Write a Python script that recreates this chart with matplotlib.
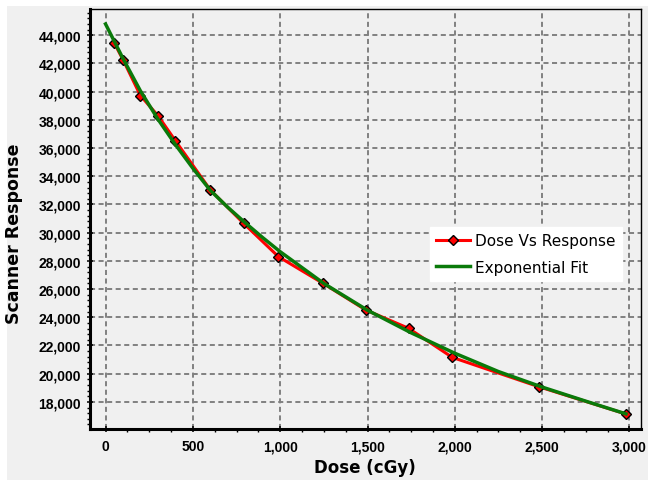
import matplotlib
matplotlib.use('Agg')
import matplotlib.pyplot as plt
import matplotlib.ticker as ticker
from matplotlib.patches import Rectangle

# data
dose = [50, 100, 200, 300, 400, 600, 790, 990, 1245, 1490, 1735, 1985, 2480, 2980]
response = [43450, 42270, 39720, 38300, 36520, 33030, 30670, 28300, 26410,
            24520, 23220, 21160, 19080, 17140]

fit_dose = [0, 100, 200, 300, 400, 500, 600, 700, 800, 900, 1000, 1250, 1500,
            1750, 2000, 2250, 2500, 2750, 2980]
fit_resp = [44800, 42350, 40050, 38050, 36250, 34570, 33000, 31800, 30700, 29650,
            28650, 26400, 24500, 22900, 21450, 20150, 19050, 18050, 17150]

W, H = 648, 481
fig = plt.figure(figsize=(W / 100, H / 100), dpi=100, facecolor='white')
# grey panel behind everything, white strip on top and left
fig.patches.append(Rectangle((7 / W, 0), 1, 1 - 7 / H, transform=fig.transFigure,
                             facecolor='#f0f0f0', edgecolor='none', zorder=-10))

ax = fig.add_axes([90 / W, 1 - 430 / H, 551 / W, 420 / H])
ax.set_facecolor('#f0f0f0')

ax.plot(dose, response, '-', color='#ff0000', linewidth=2.2, marker='D',
        markersize=5.5, markerfacecolor='#ff0000', markeredgecolor='black',
        markeredgewidth=1.0, label='Dose Vs Response', zorder=3)
ax.plot(fit_dose, fit_resp, '-', color='#0a7a0a', linewidth=2.5,
        label='Exponential Fit', zorder=4)

ax.set_xlim(-89, 3066)
ax.set_ylim(16078, 45865)

ax.xaxis.set_major_locator(ticker.MultipleLocator(500))
ax.xaxis.set_minor_locator(ticker.MultipleLocator(125))
ax.yaxis.set_major_locator(ticker.MultipleLocator(2000))
ax.yaxis.set_minor_locator(ticker.MultipleLocator(400))
fmt = ticker.FuncFormatter(lambda v, p: f'{v:,.0f}')
ax.xaxis.set_major_formatter(fmt)
ax.yaxis.set_major_formatter(fmt)

ax.grid(True, which='major', color='#808080', linewidth=1.4,
        linestyle=(0, (2.6, 1.8)))
ax.set_axisbelow(True)

ax.tick_params(which='major', direction='inout', length=5, width=1.1,
               labelsize=10)
ax.tick_params(which='minor', direction='out', length=2.5, width=1.0)
ax.tick_params(axis='x', which='major', pad=5)
ax.tick_params(axis='y', which='major', pad=4)
for lab in ax.get_xticklabels() + ax.get_yticklabels():
    lab.set_fontweight('bold')
    lab.set_family(['Liberation Sans', 'DejaVu Sans'])

for side in ['left', 'bottom']:
    ax.spines[side].set_linewidth(2.2)
for side in ['top', 'right']:
    ax.spines[side].set_linewidth(1.0)

ax.set_xlabel('Dose (cGy)', fontsize=12, fontweight='bold')
ax.set_ylabel('Scanner Response', fontsize=12.5, fontweight='bold')
ax.xaxis.set_label_coords(0.499, -0.070)
ax.yaxis.set_label_coords(-0.122, 0.467)

leg = ax.legend(loc='upper left', bbox_to_anchor=(0.617, 0.481), borderaxespad=0,
                fontsize=11, frameon=True, fancybox=False, framealpha=1,
                edgecolor='white', facecolor='white', handlelength=2.2,
                handletextpad=0.35, labelspacing=0.75, borderpad=0.4)

fig.savefig('out.png', dpi=100, facecolor='white')
